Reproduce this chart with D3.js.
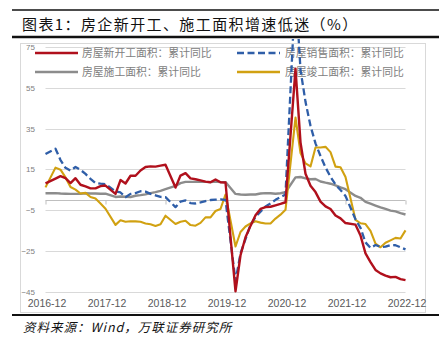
<!DOCTYPE html>
<html>
<head>
<meta charset="utf-8">
<script src="https://cdn.jsdelivr.net/npm/d3@7"></script>
<style>
  html, body { margin: 0; padding: 0; background: #fff; }
  svg { display: block; }
</style>
</head>
<body>
<svg id="chart" width="439" height="350"></svg>
<script>
// Reporting months (cumulative data, January is merged into February)
const months = [
  "2016-12",
  "2017-02","2017-03","2017-04","2017-05","2017-06","2017-07","2017-08","2017-09","2017-10","2017-11","2017-12",
  "2018-02","2018-03","2018-04","2018-05","2018-06","2018-07","2018-08","2018-09","2018-10","2018-11","2018-12",
  "2019-02","2019-03","2019-04","2019-05","2019-06","2019-07","2019-08","2019-09","2019-10","2019-11","2019-12",
  "2020-02","2020-03","2020-04","2020-05","2020-06","2020-07","2020-08","2020-09","2020-10","2020-11","2020-12",
  "2021-02","2021-03","2021-04","2021-05","2021-06","2021-07","2021-08","2021-09","2021-10","2021-11","2021-12",
  "2022-02","2022-03","2022-04","2022-05","2022-06","2022-07","2022-08","2022-09","2022-10","2022-11","2022-12"
];

// Cumulative year-on-year growth, %
const newStarts = [
  8.1,
  10.4, 11.6, 10.6, 8.2, 10.6, 7.4, 6.6, 5.6, 5.6, 6.7, 7.0,
  2.9, 9.7, 8.0, 11.8, 11.8, 14.4, 16.1, 16.4, 16.3, 16.8, 17.2,
  6.0, 11.9, 13.1, 10.5, 10.1, 9.5, 8.9, 8.6, 10.0, 8.6, 8.5,
  -44.9, -27.2, -18.4, -12.8, -7.6, -4.5, -3.6, -3.4, -2.7, -2.0, -1.2,
  64.3, 28.2, 12.8, 6.9, 3.8, -0.9, -3.2, -4.5, -7.7, -9.1, -11.4,
  -12.2, -17.5, -26.3, -30.6, -34.4, -36.1, -37.2, -38.0, -37.8, -38.9, -39.4
];
const salesArea = [
  22.5,
  25.1, 19.5, 15.7, 14.3, 16.1, 14.7, 12.7, 10.3, 8.2, 7.9, 7.7,
  4.1, 3.6, 1.3, 2.9, 3.3, 4.2, 4.0, 2.9, 2.2, 1.4, 1.3,
  -3.6, -0.9, -0.3, -1.6, -1.8, -1.3, -0.6, -0.1, 0.1, 0.2, -0.1,
  -39.9, -26.3, -19.3, -12.3, -8.4, -5.8, -3.3, -1.8, 0.0, 1.3, 2.6,
  104.9, 63.8, 48.1, 36.3, 27.7, 21.5, 15.9, 11.3, 7.5, 4.8, 1.9,
  -9.6, -13.8, -20.9, -23.6, -22.2, -23.1, -23.0, -22.2, -22.3, -23.3, -24.3
];
const underConstruction = [
  3.2,
  3.3, 3.1, 3.0, 2.9, 2.9, 3.0, 3.2, 3.1, 3.1, 3.0, 3.0,
  1.4, 1.6, 1.5, 1.4, 2.0, 2.3, 2.7, 3.3, 3.8, 4.4, 5.2,
  6.8, 8.2, 8.8, 8.8, 8.8, 9.0, 8.8, 8.7, 9.0, 8.7, 8.7,
  2.9, 2.6, 2.5, 2.6, 2.6, 3.1, 3.3, 3.2, 3.0, 3.2, 3.7,
  11.0, 11.2, 10.5, 10.1, 10.2, 9.0, 8.4, 7.9, 7.1, 6.1, 5.2,
  1.9, 1.0, -1.0, -1.9, -2.8, -3.7, -4.5, -5.3, -5.7, -6.5, -7.2
];
const completions = [
  6.1,
  15.8, 14.8, 11.0, 6.3, 5.0, 3.1, 3.4, 1.4, 0.6, -1.8, -4.4,
  -12.3, -10.0, -10.8, -10.5, -10.6, -10.8, -11.6, -12.0, -12.8, -12.0, -7.8,
  -11.9, -10.8, -10.3, -12.4, -12.7, -11.3, -8.6, -8.6, -5.5, -4.5, 2.6,
  -22.9, -15.8, -13.1, -11.6, -10.5, -11.2, -11.6, -11.6, -9.2, -7.3, -4.9,
  40.4, 22.9, 17.9, 16.4, 25.7, 25.7, 26.0, 23.4, 16.3, 16.0, 11.2,
  -9.8, -11.5, -11.9, -15.3, -21.5, -23.3, -21.1, -19.9, -18.7, -19.0, -15.0
];

const yTicks = [-45, -25, -5, 15, 35, 55, 75];
const xTickLabels = ["2016-12", "2017-12", "2018-12", "2019-12", "2020-12", "2021-12", "2022-12"];

const seriesNames = ["房屋新开工面积：累计同比", "房屋销售面积：累计同比", "房屋施工面积：累计同比", "房屋竣工面积：累计同比"];
const titleText = "图表1：房企新开工、施工面积增速低迷（%）";
const sourceText = "资料来源：Wind，万联证券研究所";

// ---- drawing ----
const svg = d3.select("#chart");
const CJK = "'Noto Sans CJK SC', 'Noto Sans', sans-serif";

// month offset from 2016-12
const monthIndex = s => {
  const [y, m] = s.split("-").map(Number);
  return (y - 2016) * 12 + (m - 12);
};

const x = d3.scaleLinear().domain([0, 72]).range([45.5, 405.5]);
const y = d3.scaleLinear().domain([-45, 75]).range([291.5, 47]);

// title block with rules
svg.append("line").attr("x1", 12).attr("x2", 439).attr("y1", 10).attr("y2", 10)
  .attr("stroke", "#111").attr("stroke-width", 1.6);
svg.append("text").attr("x", 22).attr("y", 29.5)
  .attr("font-family", CJK).attr("font-size", 15).attr("letter-spacing", 1.4)
  .attr("fill", "#111").text(titleText);
svg.append("line").attr("x1", 12).attr("x2", 439).attr("y1", 37).attr("y2", 37)
  .attr("stroke", "#111").attr("stroke-width", 2.4);

// chart frame
svg.append("rect").attr("x", 20.5).attr("y", 43.5).attr("width", 405).attr("height", 269)
  .attr("fill", "none").attr("stroke", "#d9d9d9").attr("stroke-width", 1);

// horizontal gridlines
svg.append("g").selectAll("line").data(yTicks).join("line")
  .attr("x1", x(0)).attr("x2", x(72))
  .attr("y1", d => Math.round(y(d)) + 0.5).attr("y2", d => Math.round(y(d)) + 0.5)
  .attr("stroke", "#d9d9d9").attr("stroke-width", 1);

// y labels
const yAxis = d3.axisLeft(y).tickValues(yTicks).tickSize(0).tickPadding(0);
const gy = svg.append("g").attr("transform", "translate(35,0)").call(yAxis);
gy.select(".domain").remove();
gy.selectAll("text").attr("font-family", "'Liberation Sans', Arial, sans-serif")
  .attr("font-size", 8).attr("fill", "#808080");

// category axis at zero, with year ticks
const yearTicks = xTickLabels.map(monthIndex);
const xAxis = d3.axisBottom(x).tickValues(yearTicks).tickSize(4).tickFormat("");
const gx = svg.append("g").attr("transform", `translate(0,${Math.round(y(0)) + 0.5})`).call(xAxis);
gx.select(".domain").attr("stroke", "#bfbfbf").attr("d", `M${x(0)},0H${x(72)}`);
gx.selectAll(".tick line").attr("stroke", "#bfbfbf");

// year labels sit at the bottom of the plot
svg.append("g").selectAll("text").data(xTickLabels).join("text")
  .attr("x", d => x(monthIndex(d)) + 1.5)
  .attr("y", 307)
  .attr("text-anchor", "middle")
  .attr("font-family", "'Liberation Sans', Arial, sans-serif")
  .attr("font-size", 10.5).attr("fill", "#595959")
  .text(d => d);

// series
const series = [
  { name: seriesNames[0], values: newStarts, color: "#b0101c", width: 2.4, dash: null },
  { name: seriesNames[1], values: salesArea, color: "#2f5ea8", width: 2.3, dash: "7,3.5" },
  { name: seriesNames[2], values: underConstruction, color: "#8c8c8c", width: 2.4, dash: null },
  { name: seriesNames[3], values: completions, color: "#d1a111", width: 2.1, dash: null }
];

// legend (two rows, two columns)
const legendPos = [
  { lx: 35, tx: 82, ly: 53 },
  { lx: 237, tx: 285, ly: 53 },
  { lx: 35, tx: 82, ly: 72 },
  { lx: 237, tx: 285, ly: 72 }
];
const legend = svg.append("g");
series.forEach((s, i) => {
  const p = legendPos[i];
  legend.append("line").attr("x1", p.lx).attr("x2", p.lx + 43).attr("y1", p.ly).attr("y2", p.ly)
    .attr("stroke", s.color).attr("stroke-width", s.width + 0.3)
    .attr("stroke-dasharray", s.dash);
  legend.append("text").attr("x", p.tx).attr("y", p.ly + 4)
    .attr("font-family", CJK).attr("font-size", 10.8).attr("fill", "#808080")
    .text(s.name);
});

// clip lines to the chart area
svg.append("defs").append("clipPath").attr("id", "plotClip")
  .append("rect").attr("x", 21).attr("y", 39).attr("width", 404).attr("height", 273);

const line = d3.line()
  .x((d, i) => x(monthIndex(months[i])))
  .y(d => y(d));

const plot = svg.append("g").attr("clip-path", "url(#plotClip)");
// draw order: grey, gold, blue, red on top
[2, 3, 1, 0].forEach(k => {
  const s = series[k];
  plot.append("path").datum(s.values)
    .attr("d", line)
    .attr("fill", "none")
    .attr("stroke", s.color)
    .attr("stroke-width", s.width)
    .attr("stroke-linejoin", "round")
    .attr("stroke-dasharray", s.dash);
});

// source note
svg.append("line").attr("x1", 12).attr("x2", 439).attr("y1", 315).attr("y2", 315)
  .attr("stroke", "#111").attr("stroke-width", 2.2);
svg.append("text").attr("x", 23).attr("y", 332)
  .attr("font-family", CJK).attr("font-size", 12.5).attr("font-style", "italic")
  .attr("letter-spacing", 1).attr("fill", "#111").text(sourceText);
</script>
</body>
</html>
